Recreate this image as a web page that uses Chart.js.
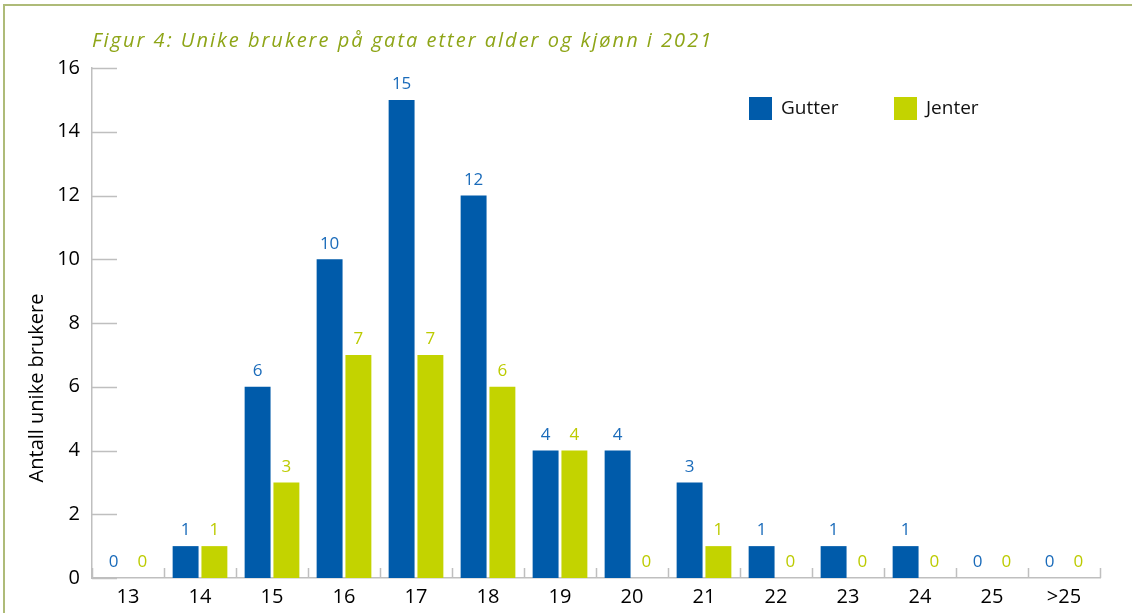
<!DOCTYPE html>
<html>
<head>
<meta charset="utf-8">
<script src="https://cdn.jsdelivr.net/npm/chart.js@4/dist/chart.umd.min.js"></script>
<style>
html,body{margin:0;padding:0;background:#fff;}
#wrap{position:relative;width:1132px;height:613px;}
</style>
</head>
<body>
<div id="wrap"><canvas id="c"></canvas></div>
<script>
const categories = ['13','14','15','16','17','18','19','20','21','22','23','24','25','>25'];
const gutter = [0,1,6,10,15,12,4,4,3,1,1,1,0,0];
const jenter = [0,1,3,7,7,6,4,0,1,0,0,0,0,0];
const seriesNames = ['Gutter','Jenter'];
const yTicks = [0,2,4,6,8,10,12,14,16];
const titleText = 'Figur 4: Unike brukere på gata etter alder og kjønn i 2021';
const yTitleText = 'Antall unike brukere';

const BLUE = '#005BAA';
const GREEN = '#C3D300';
const BLUE_LBL = '#1A6BBA';
const GREEN_LBL = '#BCCB00';
const AXIS = '#BFBFBF';
const FONT = '"Open Sans", "Noto Sans", sans-serif';

const decor = {
  id: 'decor',
  beforeDraw(chart) {
    const ctx = chart.ctx;
    ctx.save();
    ctx.strokeStyle = '#AEBB78';
    ctx.lineWidth = 2;
    ctx.beginPath();
    ctx.moveTo(4, 613); ctx.lineTo(4, 5); ctx.lineTo(1132, 5);
    ctx.stroke();
    // title
    ctx.fillStyle = '#8EA517';
    ctx.font = 'italic 20px ' + FONT;
    ctx.letterSpacing = '2px';
    ctx.textAlign = 'left';
    ctx.textBaseline = 'middle';
    ctx.fillText(titleText, 92, 41);
    ctx.letterSpacing = '0px';
    // y title
    ctx.fillStyle = '#000';
    ctx.font = '20px ' + FONT;
    ctx.translate(37, 388);
    ctx.rotate(-Math.PI/2);
    ctx.textAlign = 'center';
    ctx.fillText(yTitleText, 0, 0);
    ctx.restore();
  },
  afterDatasetsDraw(chart) {
    const ctx = chart.ctx;
    const ys = chart.scales.y;
    const a = chart.chartArea;
    ctx.save();
    ctx.strokeStyle = AXIS;
    ctx.lineWidth = 1.5;
    // inner y ticks
    yTicks.forEach(v => {
      const py = Math.round(ys.getPixelForValue(v)) + 0.5;
      ctx.beginPath(); ctx.moveTo(a.left, py); ctx.lineTo(a.left + 25, py); ctx.stroke();
    });
    // x boundary ticks
    const n = categories.length;
    for (let i = 0; i <= n; i++) {
      const px = Math.round(a.left + (a.right - a.left) * i / n) + 0.5;
      ctx.beginPath(); ctx.moveTo(px, a.bottom); ctx.lineTo(px, a.bottom - 10); ctx.stroke();
    }
    // data labels
    ctx.font = '17px ' + FONT;
    ctx.textAlign = 'center';
    ctx.textBaseline = 'bottom';
    chart.data.datasets.forEach((ds, di) => {
      const meta = chart.getDatasetMeta(di);
      ctx.fillStyle = di === 0 ? BLUE_LBL : GREEN_LBL;
      meta.data.forEach((bar, i) => {
        ctx.fillText(String(ds.data[i]), bar.x, bar.y - 7);
      });
    });
    // legend
    ctx.font = '19px ' + FONT;
    ctx.textAlign = 'left';
    ctx.textBaseline = 'middle';
    const legX = [749, 894];
    chart.data.datasets.forEach((ds, di) => {
      ctx.fillStyle = ds.backgroundColor;
      ctx.fillRect(legX[di], 97, 23, 23);
      ctx.fillStyle = '#111';
      ctx.fillText(ds.label, legX[di] + 32, 109);
    });
    ctx.restore();
  }
};

new Chart(document.getElementById('c'), {
  type: 'bar',
  data: {
    labels: categories,
    datasets: [
      { label: seriesNames[0], data: gutter, backgroundColor: BLUE },
      { label: seriesNames[1], data: jenter, backgroundColor: GREEN }
    ]
  },
  options: {
    responsive: true,
    maintainAspectRatio: false,
    animation: false,
    devicePixelRatio: 1,
    layout: { padding: { left: 0, top: 68, right: 32, bottom: 0 } },
    datasets: { bar: { categoryPercentage: 0.8, barPercentage: 0.9 } },
    plugins: { legend: { display: false }, title: { display: false }, tooltip: { enabled: false } },
    scales: {
      x: {
        grid: { display: false, drawTicks: false },
        border: { display: true, color: AXIS, width: 1.5 },
        ticks: { color: '#000', font: { family: FONT, size: 20 }, padding: 7 },
        afterFit(s) { s.height = 35; }
      },
      y: {
        min: 0, max: 16,
        afterBuildTicks(s) { s.ticks = yTicks.map(v => ({ value: v })); },
        grid: { display: false, drawTicks: false },
        border: { display: true, color: AXIS, width: 1.5 },
        ticks: { color: '#000', font: { family: FONT, size: 20 }, padding: 12 },
        afterFit(s) { s.width = 92; }
      }
    }
  },
  plugins: [decor]
});
</script>
</body>
</html>
